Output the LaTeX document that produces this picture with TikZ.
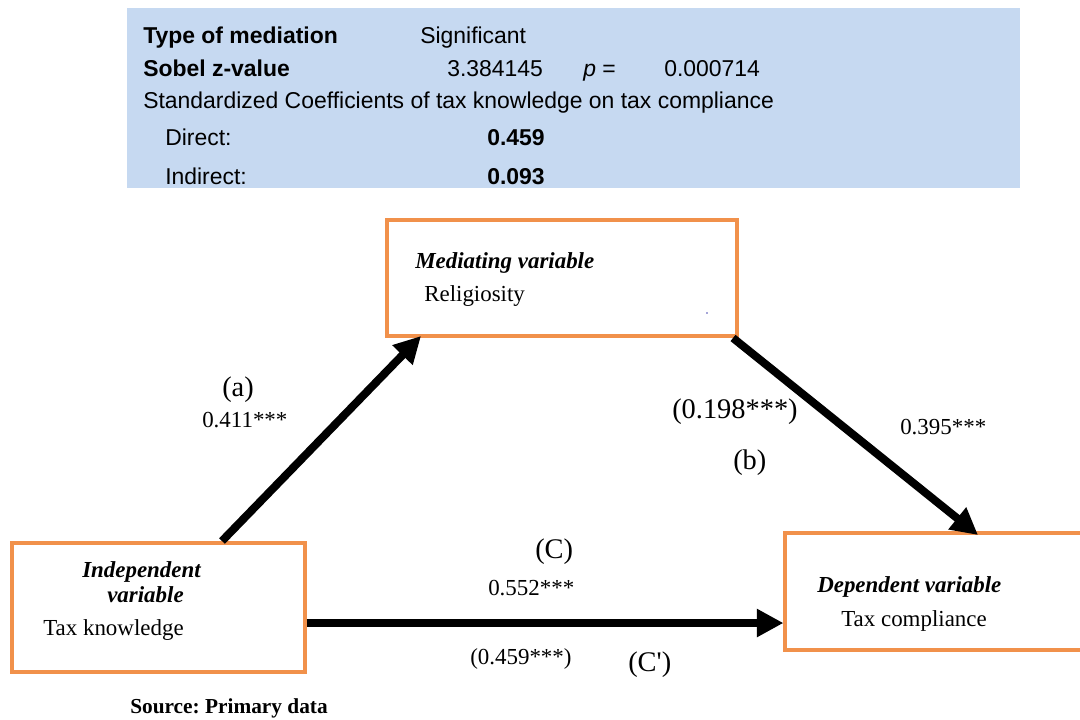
\documentclass[tikz,border=0pt]{standalone}
\usepackage{fontspec}
\setmainfont{Liberation Serif}
\newfontfamily\arialf{Liberation Sans}
\newfontfamily\serifplain[Ligatures=TeXOff]{Liberation Serif}
\usetikzlibrary{arrows.meta}
\frenchspacing
\definecolor{boxorange}{RGB}{241,145,75}
\definecolor{tblblue}{RGB}{198,217,241}
\tikzset{
  varbox/.style={draw=boxorange, line width=2.3pt, fill=white, inner sep=0pt},
  tbltxt/.style={inner sep=0pt, anchor=base west, font=\arialf\fontsize{17.2}{20}\selectfont},
  tblbold/.style={tbltxt, font=\arialf\bfseries\fontsize{17.2}{20}\selectfont},
  lbl/.style={inner sep=0pt, anchor=base west, font=\fontsize{17.2}{20}\selectfont},
  plbl/.style={inner sep=0pt, anchor=base west, font=\fontsize{21.3}{24}\selectfont},
  vtitle/.style={inner sep=0pt, anchor=base west, font=\bfseries\itshape\fontsize{17.2}{20}\selectfont},
  arr/.style={line width=6pt, -{Triangle[length=20pt,width=20pt]}},
}
\begin{document}
\begin{tikzpicture}[x=0.75pt,y=-0.75pt]
\useasboundingbox (0,0) rectangle (1080,719);
\begin{scope}
\clip (0,0) rectangle (1080,719);
% table
\node[fill=tblblue, inner sep=0pt, minimum width=669.75pt, minimum height=135pt] (tbl) at (573.5,98) {};
\node[tblbold] (t1a) at (143,43) {Type of mediation};
\node[tbltxt] (t1b) at (420,43) {Significant};
\node[tblbold] (t2a) at (143,76) {Sobel z-value};
\node[tbltxt] (t2b) at (447,76) {3.384145};
\node[tbltxt] (t2c) at (583,76) {\textit{p} =};
\node[tbltxt] (t2d) at (664,76) {0.000714};
\node[tbltxt] (t3) at (143,108) {Standardized Coefficients of tax knowledge on tax compliance};
\node[tbltxt] (t4a) at (165,145) {Direct:};
\node[tblbold] (t4b) at (487,145) {0.459};
\node[tbltxt] (t5a) at (165,184) {Indirect:};
\node[tblbold] (t5b) at (487,184) {0.093};
% boxes
\node[varbox, minimum width=262.5pt, minimum height=87pt] (med) at (562,278) {};
\node[varbox, minimum width=219.75pt, minimum height=96.75pt] (ind) at (158.5,607.5) {};
\node[varbox, minimum width=232.5pt, minimum height=87.75pt] (dep) at (940,591.5) {};
\fill[blue!40!gray] (707,313) circle (0.8);
% box texts
\node[vtitle] (medt) at (415,268) {Mediating variable};
\node[lbl] (medv) at (424,301) {Religiosity};
\node[vtitle] (indt1) at (82,577) {Independent};
\node[vtitle] (indt2) at (107,602) {variable};
\node[lbl] (indv) at (43,635) {Tax knowledge};
\node[vtitle] (dept) at (817,592) {Dependent variable};
\node[lbl] (depv) at (841,626) {Tax compliance};
% arrow end points
\coordinate (aS) at (222,541);
\coordinate (aE) at (421,336);
\coordinate (bS) at (733,338);
\coordinate (bE) at (978,535);
\coordinate (cS) at (ind.east |- 0,623);
\coordinate (cE) at (dep.west |- 0,623);
\draw[arr] (aS) -- (aE);
\draw[arr] (bS) -- (bE);
\draw[arr] (cS) -- (cE);
% labels
\node[plbl] (la) at (222,396) {(a)};
\node[lbl] (lav) at (202,427) {0.411***};
\node[plbl] (lbv2) at (672,418) {(0.198***)};
\node[plbl] (lb) at (733,469) {(b)};
\node[lbl] (lbv) at (900,434) {0.395***};
\node[plbl] (lc) at (535,558) {(C)};
\node[lbl] (lcv) at (488,595) {0.552***};
\node[lbl] (lcv2) at (470,664) {(0.459***)};
\node[plbl] (lc2) at (628,671) {\serifplain(C')};
\node[inner sep=0pt, anchor=base west, font=\bfseries\fontsize{16}{19}\selectfont] (src) at (130,713) {Source: Primary data};
\end{scope}
\end{tikzpicture}
\end{document}
